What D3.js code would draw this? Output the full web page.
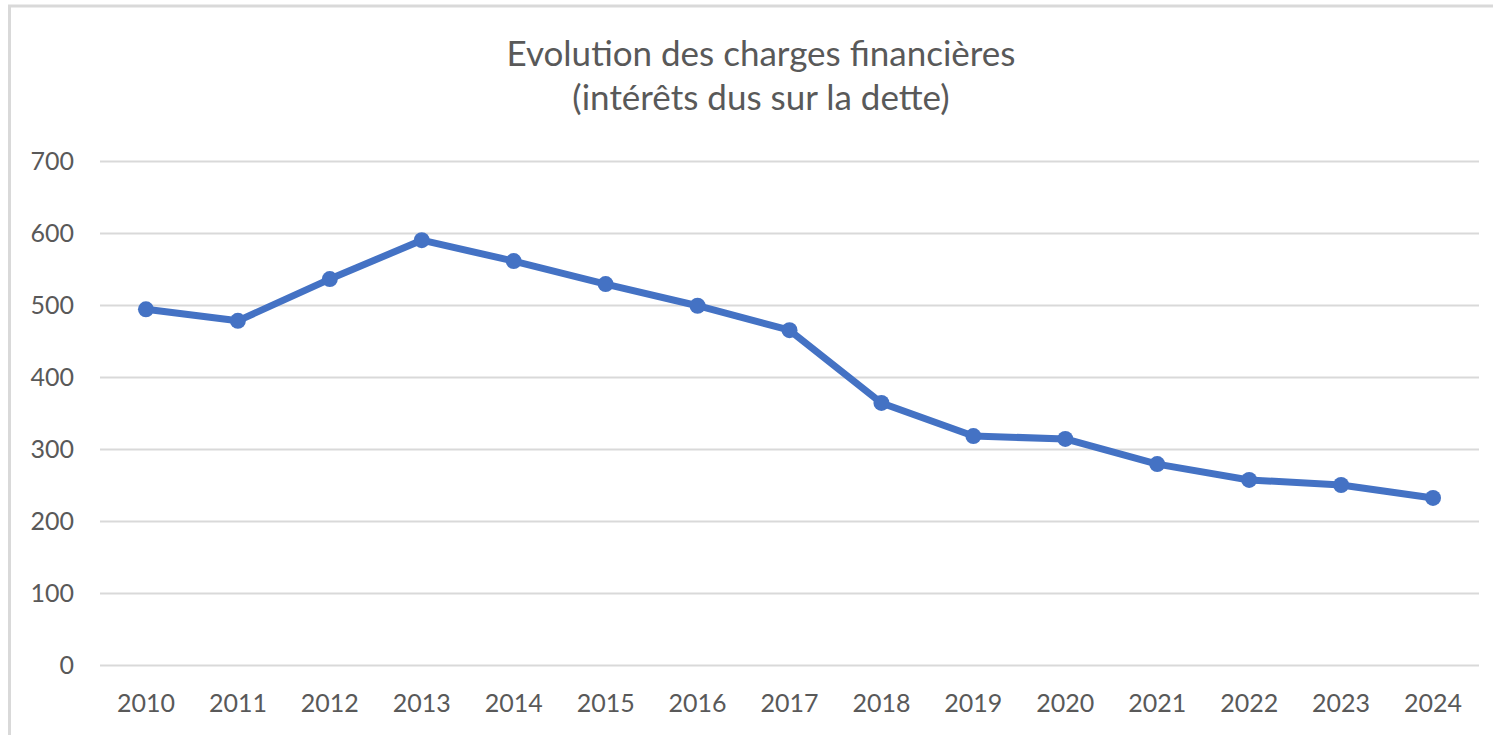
<!DOCTYPE html>
<html>
<head>
<meta charset="utf-8">
<script src="https://cdn.jsdelivr.net/npm/d3@7"></script>
<style>
  body { margin: 0; background: #fff; }
  svg { display: block; }
</style>
</head>
<body>
<script>
var years = ["2010", "2011", "2012", "2013", "2014", "2015", "2016", "2017",
    "2018", "2019", "2020", "2021", "2022", "2023", "2024"];
var charges = [494, 478, 536, 590, 561, 529, 499, 465, 364, 318, 314, 279, 257, 250, 232];
var yTicks = [0, 100, 200, 300, 400, 500, 600, 700];
var titleLines = ["Evolution des charges financières", "(intérêts dus sur la dette)"];

var w = 1493, h = 735;
var plotLeft = 100, plotRight = 1479, plotTop = 161, plotBottom = 665;
var font = "Lato, 'Open Sans', sans-serif";

var svg = d3.select("body")
    .append("svg")
    .attr("width", w)
    .attr("height", h);

// chart frame
svg.append("rect")
    .attr("x", 9.5)
    .attr("y", 6)
    .attr("width", w + 20)
    .attr("height", h + 20)
    .attr("fill", "#fff")
    .attr("stroke", "#d9d9d9")
    .attr("stroke-width", 3);

var xScale = d3.scalePoint()
    .domain(years)
    .range([plotLeft, plotRight])
    .padding(0.5);
var yScale = d3.scaleLinear()
    .domain([0, 700])
    .range([plotBottom, plotTop]);

// gridlines
svg.append("g")
    .attr("transform", "translate(" + plotLeft + ",0)")
    .call(d3.axisLeft(yScale).tickValues(yTicks).tickSize(-(plotRight - plotLeft)).tickFormat(""))
    .call(g => g.select(".domain").remove())
    .call(g => g.selectAll("line").attr("stroke", "#d9d9d9").attr("stroke-width", 2));

// y labels
svg.append("g")
    .selectAll("text")
    .data(yTicks)
    .enter()
    .append("text")
    .attr("x", 74)
    .attr("y", d => yScale(d))
    .attr("dy", "0.35em")
    .attr("text-anchor", "end")
    .attr("font-family", font)
    .attr("font-size", "25px")
    .attr("fill", "#595959")
    .text(d => d);

// x labels
svg.append("g")
    .selectAll("text")
    .data(years)
    .enter()
    .append("text")
    .attr("x", d => xScale(d))
    .attr("y", 712)
    .attr("text-anchor", "middle")
    .attr("font-family", font)
    .attr("font-size", "25px")
    .attr("fill", "#595959")
    .text(d => d);

// line
var line = d3.line()
    .x((d, i) => xScale(years[i]))
    .y(d => yScale(d));

svg.append("path")
    .datum(charges)
    .attr("d", line)
    .attr("fill", "none")
    .attr("stroke", "#4472c4")
    .attr("stroke-width", 7)
    .attr("stroke-linejoin", "round");

svg.selectAll("circle")
    .data(charges)
    .enter()
    .append("circle")
    .attr("cx", (d, i) => xScale(years[i]))
    .attr("cy", d => yScale(d))
    .attr("r", 8)
    .attr("fill", "#4472c4");

// title
svg.append("g")
    .selectAll("text")
    .data(titleLines)
    .enter()
    .append("text")
    .attr("x", 761)
    .attr("y", (d, i) => 66 + i * 44)
    .attr("text-anchor", "middle")
    .attr("font-family", font)
    .attr("font-size", "35px")
    .attr("fill", "#595959")
    .text(d => d);
</script>
</body>
</html>
